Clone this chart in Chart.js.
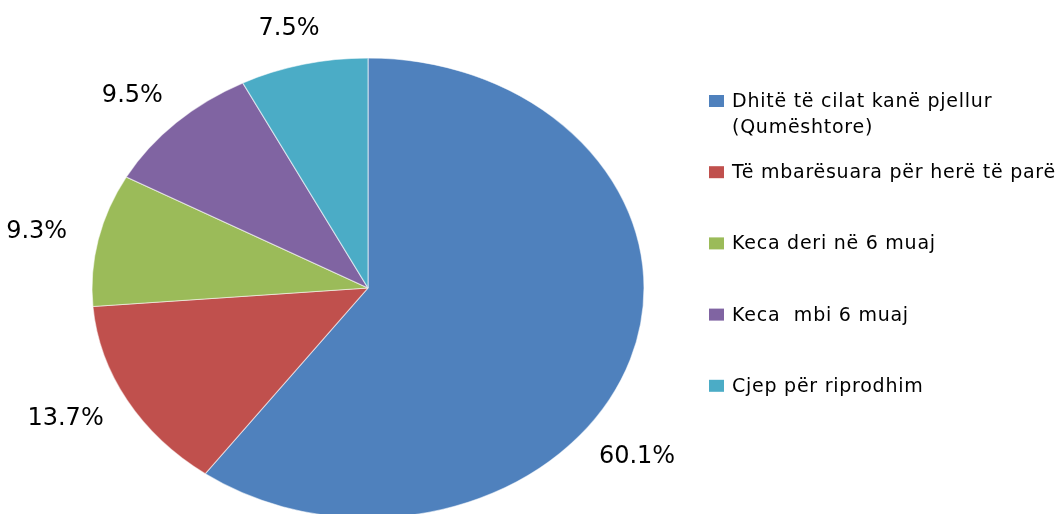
<!DOCTYPE html>
<html lang="sq">
<head>
  <meta charset="UTF-8">
  <title>Struktura e tufës së dhive</title>
  <script src="https://cdn.jsdelivr.net/npm/chart.js"></script>
  <style>
    html, body { margin: 0; padding: 0; background: #fff; overflow: hidden; }
    .wrap { position: relative; width: 1062px; height: 576px; }
  </style>
</head>
<body>
  <div class="wrap"><canvas id="pie"></canvas></div>

  <script>
    const categories = [
      "Dhitë të cilat kanë pjellur (Qumështore)",
      "Të mbarësuara për herë të parë",
      "Keca deri në 6 muaj",
      "Keca  mbi 6 muaj",
      "Cjep për riprodhim"
    ];
    const shares = [60.1, 13.7, 9.3, 9.5, 7.5];
    const valueLabels = ["60.1%", "13.7%", "9.3%", "9.5%", "7.5%"];
    const colours = ["#4F81BD", "#C0504D", "#9BBB59", "#8064A2", "#4BACC6"];

    // the pie in the picture is an ellipse, wider than it is tall
    const STRETCH = 1.2;

    // legend layout
    const legendBoxX = 709, legendTextX = 732;
    const legendFirstBaseline = 107, legendStep = 71.2, legendLine = 26;
    let legendRect = null;

    const ellipse = {
      id: "ellipse",
      beforeDatasetsDraw(chart) {
        const arc = chart.getDatasetMeta(0).data[0];
        const ctx = chart.ctx;
        ctx.save();
        ctx.translate(arc.x, arc.y);
        ctx.scale(STRETCH, 1);
        ctx.translate(-arc.x, -arc.y);
      },
      afterDatasetsDraw(chart) {
        chart.ctx.restore();
      }
    };

    function wrapText(ctx, text, maxWidth) {
      const words = text.split(" ");
      const lines = [];
      let line = "";
      words.forEach(w => {
        const test = line === "" ? w : line + " " + w;
        if (ctx.measureText(test).width > maxWidth && line !== "") {
          lines.push(line);
          line = w;
        } else {
          line = test;
        }
      });
      lines.push(line);
      return lines;
    }

    const legendAndLabels = {
      id: "legendAndLabels",
      afterDraw(chart) {
        const ctx = chart.ctx;
        const maxW = 340;

        // legend
        ctx.save();
        ctx.font = "19px 'DejaVu Sans'";
        ctx.letterSpacing = "0.75px";
        ctx.textAlign = "left";
        ctx.textBaseline = "alphabetic";
        let bottom = 0;
        categories.forEach((name, i) => {
          const base = legendFirstBaseline + i * legendStep;
          ctx.fillStyle = colours[i];
          ctx.fillRect(legendBoxX, base - 12, 15, 12);
          ctx.fillStyle = "#000";
          const lines = wrapText(ctx, name, maxW);
          lines.forEach((l, j) => ctx.fillText(l, legendTextX, base + j * legendLine));
          bottom = base + (lines.length - 1) * legendLine + 5;
        });
        legendRect = { left: legendBoxX, top: legendFirstBaseline - 16, right: chart.width, bottom: bottom };
        ctx.restore();

        // value labels outside each slice, nudged round the pie if they would hit the legend
        ctx.save();
        ctx.font = "24px 'DejaVu Sans'";
        ctx.textAlign = "center";
        ctx.textBaseline = "middle";
        ctx.fillStyle = "#000";
        const pad = 48;
        chart.getDatasetMeta(0).data.forEach((arc, i) => {
          const w = ctx.measureText(valueLabels[i]).width;
          const h = 20;
          const r = arc.outerRadius + 27;
          let theta = (arc.startAngle + arc.endAngle) / 2;
          let x, y;
          for (let k = 0; k < 90; k++) {
            const dx = Math.cos(theta), dy = Math.sin(theta);
            x = arc.x + STRETCH * r * dx + dx * w / 2;
            y = arc.y + r * dy + dy * h / 2;
            const hit = x + w / 2 > legendRect.left - pad && x - w / 2 < legendRect.right &&
                        y + h / 2 > legendRect.top - pad && y - h / 2 < legendRect.bottom + pad;
            if (!hit) break;
            theta += Math.PI / 180;
          }
          ctx.fillText(valueLabels[i], x, y);
        });
        ctx.restore();
      }
    };

    new Chart(document.getElementById("pie"), {
      type: "pie",
      data: {
        labels: categories,
        datasets: [{
          data: shares,
          backgroundColor: colours,
          borderColor: "rgba(255,255,255,0.55)",
          borderWidth: 1,
          hoverOffset: 0,
          radius: 230,
          clip: false
        }]
      },
      options: {
        responsive: true,
        maintainAspectRatio: false,
        animation: false,
        events: [],
        layout: { padding: { left: 138, right: 464, top: 58, bottom: 58 } },
        plugins: {
          legend: { display: false },
          tooltip: { enabled: false }
        }
      },
      plugins: [ellipse, legendAndLabels]
    });
  </script>
</body>
</html>
